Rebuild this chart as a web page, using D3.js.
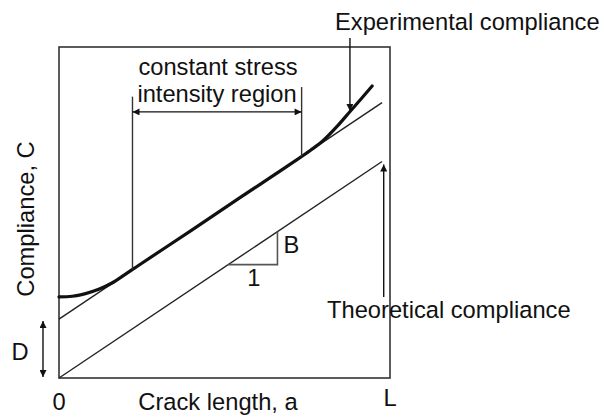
<!DOCTYPE html>
<html lang="en">
    <head>
        <meta charset="utf-8">
        <title>Compliance vs crack length</title>
        <script src="https://d3js.org/d3.v7.min.js"></script>
        <style type="text/css">
            body { margin: 0; background: #fff; }
            text { font-family: "Liberation Sans", Arial, sans-serif; font-size: 23.7px; fill: #111; }
        </style>
    </head>
    <body>
        <script type="text/javascript">

            // data (arbitrary units, axes 0..10)
            var expA = [0, 0.4, 0.8, 1.2, 1.6, 2.0, 2.4, 4, 5.5, 7, 7.6, 8.0, 8.4, 8.8, 9.15, 9.46];
            var expC = [2.45, 2.47, 2.55, 2.68, 2.87, 3.13, 3.4, 4.46, 5.47, 6.47, 6.88, 7.19, 7.6, 8.06, 8.46, 8.82];
            var theoA = [0, 9.76];
            var theoC = [0, 6.54];
            var tangA = [0, 9.76];
            var tangC = [1.78, 8.32];
            var regionA = [2.22, 7.33];   // constant stress intensity region
            var slopeA = [5.11, 6.6];     // little B / 1 triangle
            var tickLabels = ["0", "L"];

            var width = 606, height = 419;

            var x = d3.scaleLinear().domain([0, 10]).range([59, 390]);
            var y = d3.scaleLinear().domain([0, 10]).range([378, 47]);

            var svg = d3.select("body").append("svg")
                .attr("width", width)
                .attr("height", height);

            // arrow head
            svg.append("defs").append("marker")
                .attr("id", "head")
                .attr("viewBox", "0 0 10 10")
                .attr("refX", 10).attr("refY", 5)
                .attr("markerWidth", 9).attr("markerHeight", 7)
                .attr("markerUnits", "userSpaceOnUse")
                .attr("orient", "auto-start-reverse")
                .append("path")
                .attr("d", "M0,0L10,5L0,10z")
                .attr("fill", "#111");

            var line = d3.line()
                .x(function(d) { return x(d[0]); })
                .y(function(d) { return y(d[1]); });

            // frame
            svg.append("rect")
                .attr("x", x(0)).attr("y", y(10))
                .attr("width", x(10) - x(0)).attr("height", y(0) - y(10))
                .attr("fill", "none").attr("stroke", "#333").attr("stroke-width", 1.6);

            // theoretical and tangent lines
            svg.append("path")
                .attr("d", line(d3.zip(theoA, theoC)))
                .attr("fill", "none").attr("stroke", "#222").attr("stroke-width", 1.4);
            svg.append("path")
                .attr("d", line(d3.zip(tangA, tangC)))
                .attr("fill", "none").attr("stroke", "#222").attr("stroke-width", 1.4);

            // experimental curve
            var expLine = d3.line()
                .x(function(d) { return x(d[0]); })
                .y(function(d) { return y(d[1]); })
                .curve(d3.curveMonotoneX);
            svg.append("path")
                .attr("d", expLine(d3.zip(expA, expC)))
                .attr("fill", "none").attr("stroke", "#111").attr("stroke-width", 3.2)
                .attr("stroke-linecap", "round");

            // region bounds: vertical lines from the curve up to above the arrow
            var interpC = d3.scaleLinear().domain(expA).range(expC);
            var regionTop = [8.5, 8.79];
            regionA.forEach(function(a, i) {
                svg.append("line")
                    .attr("x1", x(a)).attr("x2", x(a))
                    .attr("y1", y(interpC(a))).attr("y2", y(regionTop[i]))
                    .attr("stroke", "#333").attr("stroke-width", 1.4);
            });
            svg.append("line")
                .attr("x1", x(regionA[0])).attr("x2", x(regionA[1]))
                .attr("y1", y(8.04)).attr("y2", y(8.04))
                .attr("stroke", "#111").attr("stroke-width", 1.4)
                .attr("marker-start", "url(#head)").attr("marker-end", "url(#head)");

            var midRegion = (regionA[0] + regionA[1]) / 2;
            svg.append("text").attr("x", x(midRegion) + 1).attr("y", 75)
                .attr("text-anchor", "middle").text("constant stress");
            svg.append("text").attr("x", x(midRegion)).attr("y", 102)
                .attr("text-anchor", "middle").text("intensity region");

            // slope triangle
            svg.append("path")
                .attr("d", line([[slopeA[0], theoC[1] / theoA[1] * slopeA[0]],
                                 [slopeA[1], theoC[1] / theoA[1] * slopeA[0]],
                                 [slopeA[1], theoC[1] / theoA[1] * slopeA[1]]]))
                .attr("fill", "none").attr("stroke", "#555").attr("stroke-width", 1.6);
            svg.append("text").attr("x", x(slopeA[1]) + 6).attr("y", 253).text("B");
            svg.append("text").attr("x", x((slopeA[0] + slopeA[1]) / 2) + 1).attr("y", 286)
                .attr("text-anchor", "middle").text("1");

            // experimental compliance label + arrow
            svg.append("text").attr("x", 335).attr("y", 30).text("Experimental compliance");
            svg.append("line")
                .attr("x1", x(8.79)).attr("x2", x(8.79))
                .attr("y1", 38).attr("y2", y(8.1) + 1)
                .attr("stroke", "#111").attr("stroke-width", 1.4)
                .attr("marker-end", "url(#head)");

            // theoretical compliance label + arrow
            svg.append("text").attr("x", 327).attr("y", 318).text("Theoretical compliance");
            svg.append("line")
                .attr("x1", x(9.81)).attr("x2", x(9.81))
                .attr("y1", 297).attr("y2", y(theoC[1]) + 3)
                .attr("stroke", "#111").attr("stroke-width", 1.4)
                .attr("marker-end", "url(#head)");

            // D offset arrow
            svg.append("line")
                .attr("x1", 43).attr("x2", 43)
                .attr("y1", y(tangC[0]) + 2).attr("y2", y(0) - 1)
                .attr("stroke", "#111").attr("stroke-width", 1.4)
                .attr("marker-start", "url(#head)").attr("marker-end", "url(#head)");
            svg.append("text").attr("x", 20).attr("y", 360)
                .attr("text-anchor", "middle").text("D");

            // axis labels
            svg.append("text").attr("x", x(0)).attr("y", 410)
                .attr("text-anchor", "middle").text(tickLabels[0]);
            svg.append("text").attr("x", x(10)).attr("y", 406)
                .attr("text-anchor", "middle").text(tickLabels[1]);
            svg.append("text").attr("x", 218).attr("y", 410)
                .attr("text-anchor", "middle").text("Crack length, a");
            svg.append("text")
                .attr("transform", "translate(34,219) rotate(-90)")
                .attr("text-anchor", "middle").text("Compliance, C");

        </script>
    </body>
</html>
